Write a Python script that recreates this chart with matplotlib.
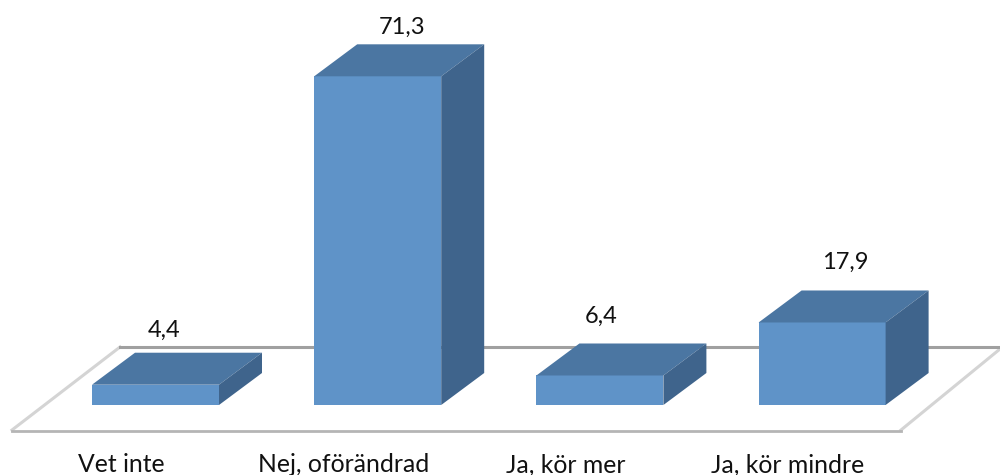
import numpy as np
import matplotlib
matplotlib.use("Agg")
import matplotlib.pyplot as plt

categories = ["Vet inte", "Nej, oförändrad", "Ja, kör mer", "Ja, kör mindre"]
values = [4.4, 71.3, 6.4, 17.9]
value_labels = ["4,4", "71,3", "6,4", "17,9"]

# pixel scale of the picture
PX_X = 222.2
PX_Y = 4.61
X0 = 155.5
BASE = 405

FRONT = "#5F93C8"
TOP = "#4B76A2"
SIDE = "#3F648C"

BAR_W = 127 / PX_X
DX = 43 / PX_X
DY = 32 / PX_Y

# hand placed labels in the original, offsets in px
label_dx = [8.5, 24, 1, 23]
label_dy = [22, 17, 27, 28]


def px(x):
    return (x - X0) / PX_X


def py(y):
    return (BASE - y) / PX_Y


plt.rcParams["font.family"] = ["Lato", "DejaVu Sans"]

fig = plt.figure(figsize=(10, 4.75), dpi=100)
ax = fig.add_axes([0, 0, 1, 1])
ax.set_xlim(px(0), px(1000))
ax.set_ylim(py(475), py(0))
ax.axis("off")

# floor
ax.plot([px(12), px(120)], [py(430), py(347)], color="#D4D4D4", lw=2.2, zorder=1)
ax.plot([px(901), px(1000)], [py(430), py(349)], color="#D4D4D4", lw=2.2, zorder=1)
ax.plot([px(120), px(1000)], [py(347), py(347)], color="#A0A0A0", lw=2.2, zorder=1)
ax.plot([px(12), px(901)], [py(431), py(431)], color="#B5B5B5", lw=2.0, zorder=1)

x = np.arange(len(values))
ax.bar(x, values, width=BAR_W, color=FRONT, zorder=3)

for i, v in enumerate(values):
    left = x[i] - BAR_W / 2
    right = x[i] + BAR_W / 2
    ax.fill([left, right, right + DX, left + DX], [v, v, v + DY, v + DY],
            color=TOP, lw=0, zorder=3)
    ax.fill([right, right + DX, right + DX, right], [0, DY, v + DY, v],
            color=SIDE, lw=0, zorder=3)
    ax.text(x[i] + label_dx[i] / PX_X, v + DY + label_dy[i] / PX_Y, value_labels[i],
            ha="center", va="center", fontsize=17, color="#111111")
    ax.text(x[i] - 34 / PX_X, py(465), categories[i],
            ha="center", va="center", fontsize=17.8, color="#111111")

fig.savefig("out.png", dpi=100)
